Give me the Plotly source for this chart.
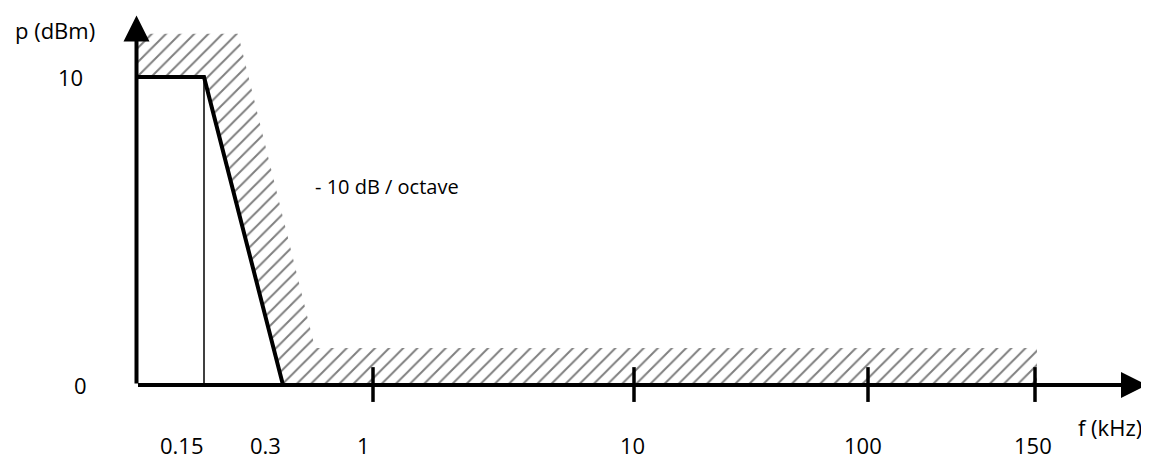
import plotly.graph_objects as go

# ---- data (schematic frequency axis: position units along the drawn axis) ----
freq_labels = ["0.15", "0.3", "1", "10", "100", "150"]
freq_pos = [6.75, 14.65, 23.65, 49.75, 73.15, 89.85]   # schematic axis positions
ticked = ["1", "10", "100", "150"]                       # labels with axis tick marks

# transmitted power mask (dBm): plateau at 10 dBm up to 0.15 kHz, then -10 dB/octave to 0.3 kHz
mask_pos = [0, 6.75, 14.65]
mask_dbm = [10, 10, 0]

# permitted limit (hatched region upper boundary)
limit_pos = [0, 10.15, 17.85, 90.05]
limit_dbm = [11.4, 11.4, 1.2, 1.2]

y_ticks = [0, 10]
y_tick_text = ["0", "10"]

x_arrow_end = 101.05
y_arrow_end = 12.0

FONT = "Open Sans"
fig = go.Figure()

# hatched region between the mask and the limit
hx = limit_pos + [limit_pos[-1]] + mask_pos[::-1]
hy = limit_dbm + [0] + mask_dbm[::-1]
fig.add_trace(go.Scatter(
    x=hx, y=hy, mode="lines", fill="toself",
    line=dict(width=0, color="rgba(0,0,0,0)"),
    fillcolor="white",
    fillpattern=dict(shape="/", size=10, solidity=0.2, fgcolor="black", bgcolor="white"),
    hoverinfo="skip", showlegend=False))

# thin vertical line at 0.15 kHz
i015 = freq_labels.index("0.15")
fig.add_trace(go.Scatter(x=[freq_pos[i015], freq_pos[i015]], y=[0, mask_dbm[1]],
                         mode="lines", line=dict(color="black", width=1.5),
                         hoverinfo="skip", showlegend=False))

# mask line
fig.add_trace(go.Scatter(x=mask_pos, y=mask_dbm, mode="lines",
                         line=dict(color="black", width=4),
                         hoverinfo="skip", showlegend=False))

# tick marks on the frequency axis
tx, ty = [], []
for lab in ticked:
    p = freq_pos[freq_labels.index(lab)]
    tx += [p, p, None]
    ty += [-0.55, 0.58, None]
fig.add_trace(go.Scatter(x=tx, y=ty, mode="lines", line=dict(color="black", width=3.5),
                         hoverinfo="skip", showlegend=False))

# axes with arrows
fig.add_annotation(x=x_arrow_end, y=0, ax=0, ay=0, axref="x", ayref="y", xref="x", yref="y",
                   text="", showarrow=True, arrowhead=2, arrowsize=1.3, arrowwidth=4, arrowcolor="black")
fig.add_annotation(x=0, y=y_arrow_end, ax=0, ay=0, axref="x", ayref="y", xref="x", yref="y",
                   text="", showarrow=True, arrowhead=2, arrowsize=1.3, arrowwidth=4, arrowcolor="black")

# x tick labels
label_shift = [-22, -18, -10, -2, -5, -2]
for lab, p, s in zip(freq_labels, freq_pos, label_shift):
    fig.add_annotation(x=p, y=-1.95, text=lab, showarrow=False, xshift=s,
                       font=dict(family=FONT, size=22, color="black"))

# y tick labels
for v, t, xs in zip(y_ticks, y_tick_text, [-56, -66]):
    fig.add_annotation(x=0, y=v, text=t, showarrow=False, xshift=xs,
                       font=dict(family=FONT, size=22, color="black"))

fig.add_annotation(x=0, y=11.53, text="p (dBm)", showarrow=False, xshift=-82,
                   font=dict(family=FONT, size=22, color="black"))
fig.add_annotation(x=x_arrow_end, y=-1.36, text="f (kHz)", showarrow=False, xshift=-37,
                   font=dict(family=FONT, size=22, color="black"))
fig.add_annotation(x=17.65, y=6.43, text="- 10 dB / octave", showarrow=False,
                   xanchor="left", font=dict(family=FONT, size=20, color="black"))

# page has an 8px body margin: figure sized so the drawing fills the 1149x462 window
fig.update_layout(
    width=1141, height=454,
    margin=dict(l=0, r=0, t=0, b=0),
    paper_bgcolor="white", plot_bgcolor="white",
    xaxis=dict(range=[-12.85, 101.25], visible=False, showgrid=False, zeroline=False),
    yaxis=dict(range=[-2.5, 12.24], visible=False, showgrid=False, zeroline=False),
    showlegend=False,
)
fig.write_html("out.html")
